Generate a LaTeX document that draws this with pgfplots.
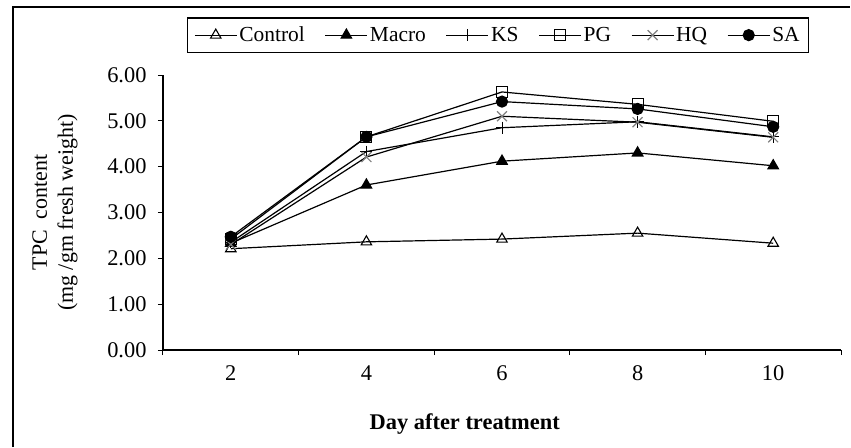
\documentclass[border=0pt]{standalone}
\usepackage{fontspec}
\setmainfont{Liberation Serif}
\usepackage{pgfplots}
\pgfplotsset{compat=1.18}
\begin{document}
\begin{tikzpicture}
\begin{axis}[
  scale only axis,
  width=678bp, height=275bp,
  xmin=1, xmax=11, ymin=0, ymax=6,
  axis lines=left,
  axis line style={-, line width=1.1bp},
  xtick={2,4,6,8,10},
  major x tick style={draw=none},
  minor xtick={1,3,5,7,9,11},
  minor tick length=5bp,
  ytick={0,1,...,6},
  major tick length=5bp,
  tick align=outside,
  tick style={line width=1bp, black},
  /pgf/number format/assume math mode=true,
  yticklabel style={/pgf/number format/fixed, /pgf/number format/fixed zerofill, /pgf/number format/precision=2, xshift=-8bp},
  xticklabel style={yshift=-7bp},
  ticklabel style={font=\fontsize{22.5}{26}\selectfont},
  xlabel={\textbf{Day after treatment}},
  xlabel style={at={(axis description cs:0.445,0)}, yshift=-74bp, anchor=center, font=\fontsize{22.5}{26}\selectfont},
  ylabel={TPC\ \ content\\(mg /gm\ fresh weight)},
  ylabel style={at={(axis description cs:-0.1593,0.5)}, anchor=center, align=center, font=\fontsize{22}{26}\selectfont},
  every axis plot/.append style={line width=1.2bp, black},
  legend columns=6,
  legend style={at={(axis description cs:0.494,1.145)}, anchor=center, draw=black, line width=1.1bp,
    font=\fontsize{21.5}{25}\selectfont, /tikz/every even column/.append style={column sep=18bp},
    inner xsep=7bp, inner ysep=7bp},
  legend image code/.code={\draw[mark repeat=2,mark phase=2] plot coordinates {(0bp,0bp) (21bp,0bp) (42bp,0bp)};},
  clip=false,
]
\addplot[mark=triangle, mark size=6bp, mark options={fill=white, line width=1.1bp}] coordinates {(2,2.21) (4,2.36) (6,2.42) (8,2.55) (10,2.33)};
\addlegendentry{Control}
\addplot[mark=triangle*, mark size=6bp, mark options={fill=black}] coordinates {(2,2.33) (4,3.60) (6,4.12) (8,4.30) (10,4.02)};
\addlegendentry{Macro}
\addplot[mark=+, mark size=6bp, mark options={line width=1bp}] coordinates {(2,2.35) (4,4.33) (6,4.85) (8,4.98) (10,4.65)};
\addlegendentry{KS}
\addplot[mark=square, mark size=5.5bp, mark options={fill=white, line width=1.1bp}] coordinates {(2,2.42) (4,4.65) (6,5.63) (8,5.36) (10,4.99)};
\addlegendentry{PG}
\addplot[mark=x, mark size=7bp, mark options={draw=gray, line width=1.2bp}] coordinates {(2,2.30) (4,4.21) (6,5.10) (8,4.97) (10,4.64)};
\addlegendentry{HQ}
\addplot[mark=*, mark size=5.5bp, mark options={fill=black}] coordinates {(2,2.47) (4,4.65) (6,5.42) (8,5.26) (10,4.87)};
\addlegendentry{SA}
\end{axis}
\draw[line width=1.1bp] (-150bp,-97bp) -- (-150bp,343bp) -- (687bp,343bp);
\path[use as bounding box] (-163bp,-97bp) rectangle (688bp,350bp);
\end{tikzpicture}
\end{document}
